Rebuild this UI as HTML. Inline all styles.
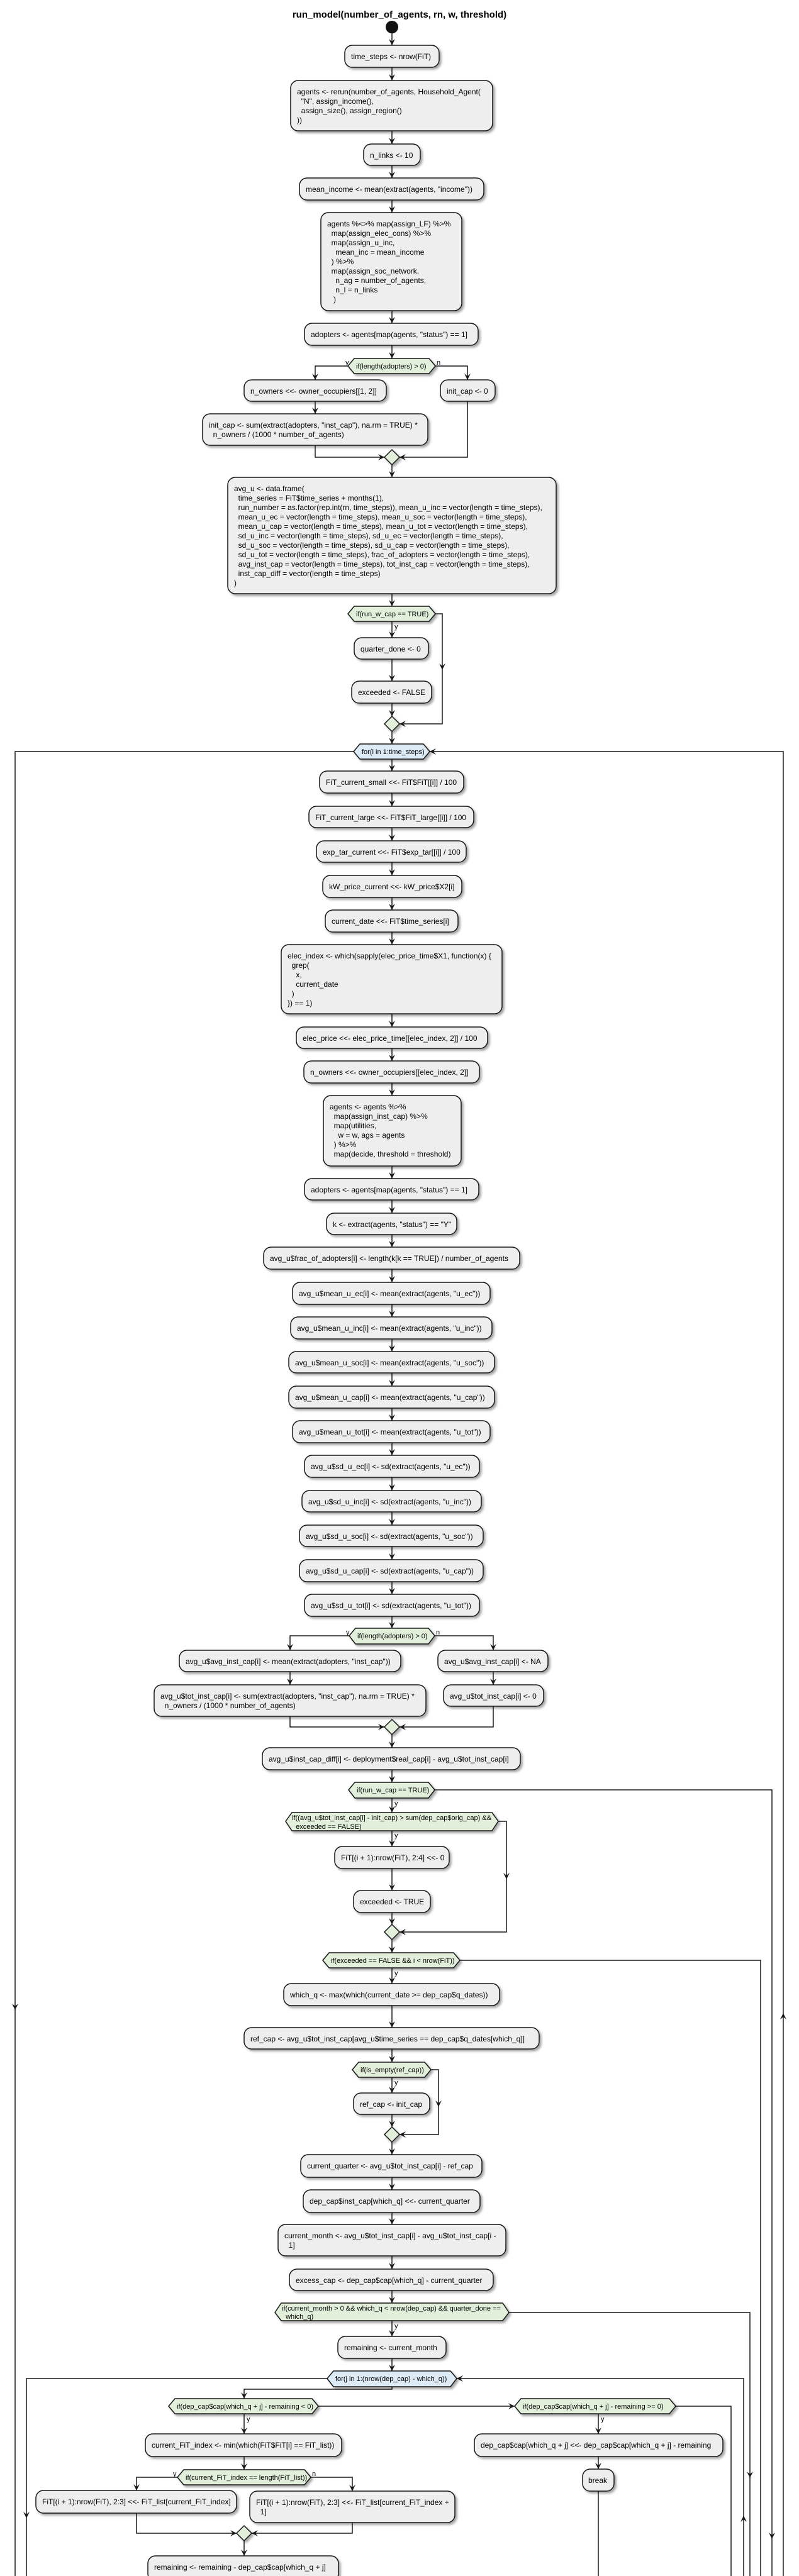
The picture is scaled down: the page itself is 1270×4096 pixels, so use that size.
<!DOCTYPE html>
<html><head><meta charset="utf-8">
<style>
html,body{margin:0;padding:0;background:#fff;}
svg{display:block;}
text{font-family:"Liberation Sans",sans-serif;font-size:12px;fill:#000;white-space:pre;}
.t{font-size:11px;}
.y{font-size:11px;}
.b{fill:#EEEEEE;stroke:#181818;stroke-width:1.5;filter:url(#s);}
.d{fill:#E2EFDA;stroke:#181818;stroke-width:1.5;filter:url(#s);}
.l{fill:#DDEBF7;stroke:#181818;stroke-width:1.5;filter:url(#s);}
.e{fill:none;stroke:#181818;stroke-width:1.5;}
.h{fill:#181818;}
</style></head><body>
<svg width="1270" height="4096" viewBox="0 0 1270 4096" xmlns="http://www.w3.org/2000/svg">
<defs>
<filter id="s" x="-10%" y="-10%" width="130%" height="140%"><feDropShadow dx="3" dy="3" stdDeviation="1.8" flood-color="#000" flood-opacity="0.35"/></filter>
<marker id="a" viewBox="0 0 10 10" refX="10" refY="5" markerWidth="10" markerHeight="10" markerUnits="userSpaceOnUse" orient="auto"><path d="M0,0 L10,5 L0,10 L4,5 Z" fill="#181818"/></marker>
</defs>

<text x="635" y="28" text-anchor="middle" style="font-size:15px;font-weight:bold">run_model(number_of_agents, rn, w, threshold)</text>
<circle cx="623" cy="43" r="10" fill="#111"/>
<path class="e" d="M623,53V72" marker-end="url(#a)"/>

<rect class="b" x="548" y="72" width="150" height="35" rx="12"/><text x="558" y="94">time_steps &lt;- nrow(FiT)</text>
<path class="e" d="M623,107V128" marker-end="url(#a)"/>
<rect class="b" x="462" y="128" width="321" height="80" rx="12"/>
<text x="472" y="150">agents &lt;- rerun(number_of_agents, Household_Agent(</text>
<text x="472" y="165">  "N", assign_income(),</text>
<text x="472" y="180">  assign_size(), assign_region()</text>
<text x="472" y="195">))</text>
<path class="e" d="M623,208V229" marker-end="url(#a)"/>
<rect class="b" x="578" y="229" width="90" height="34" rx="12"/><text x="588" y="251">n_links &lt;- 10</text>
<path class="e" d="M623,263V283" marker-end="url(#a)"/>
<rect class="b" x="476" y="283" width="293" height="35" rx="12"/><text x="486" y="305">mean_income &lt;- mean(extract(agents, "income"))</text>
<path class="e" d="M623,318V338" marker-end="url(#a)"/>
<rect class="b" x="510" y="338" width="224" height="156" rx="12"/>
<text x="520" y="360">agents %&lt;&gt;% map(assign_LF) %&gt;%</text>
<text x="520" y="375">  map(assign_elec_cons) %&gt;%</text>
<text x="520" y="390">  map(assign_u_inc,</text>
<text x="520" y="405">    mean_inc = mean_income</text>
<text x="520" y="420">  ) %&gt;%</text>
<text x="520" y="435">  map(assign_soc_network,</text>
<text x="520" y="450">    n_ag = number_of_agents,</text>
<text x="520" y="465">    n_l = n_links</text>
<text x="520" y="480">   )</text>
<path class="e" d="M623,494V514" marker-end="url(#a)"/>
<rect class="b" x="484" y="514" width="276" height="35" rx="12"/><text x="494" y="536">adopters &lt;- agents[map(agents, "status") == 1]</text>
<path class="e" d="M623,549V570" marker-end="url(#a)"/>
<polygon class="d" points="553,582 563,570 682,570 692,582 682,594 563,594"/><text class="t" x="566" y="586">if(length(adopters) &gt; 0)</text>
<text class="y" x="549" y="580">y</text><text class="y" x="694" y="580">n</text>
<path class="e" d="M553,582H501V604" marker-end="url(#a)"/>
<path class="e" d="M692,582H743V604" marker-end="url(#a)"/>
<rect class="b" x="388" y="604" width="226" height="34" rx="12"/><text x="398" y="626">n_owners &lt;&lt;- owner_occupiers[[1, 2]]</text>
<rect class="b" x="700" y="604" width="87" height="34" rx="12"/><text x="710" y="626">init_cap &lt;- 0</text>
<path class="e" d="M501,638V658" marker-end="url(#a)"/>
<rect class="b" x="322" y="658" width="358" height="50" rx="12"/>
<text x="332" y="680">init_cap &lt;- sum(extract(adopters, "inst_cap"), na.rm = TRUE) *</text>
<text x="332" y="695">  n_owners / (1000 * number_of_agents)</text>
<path class="e" d="M501,708V727H611" marker-end="url(#a)"/>
<path class="e" d="M743,638V727H635" marker-end="url(#a)"/>
<polygon class="d" points="623,715 635,727 623,739 611,727"/>
<path class="e" d="M623,739V759" marker-end="url(#a)"/>
<rect class="b" x="362" y="759" width="522" height="185" rx="12"/>
<text x="372" y="781">avg_u &lt;- data.frame(</text>
<text x="372" y="796">  time_series = FiT$time_series + months(1),</text>
<text x="372" y="811">  run_number = as.factor(rep.int(rn, time_steps)), mean_u_inc = vector(length = time_steps),</text>
<text x="372" y="826">  mean_u_ec = vector(length = time_steps), mean_u_soc = vector(length = time_steps),</text>
<text x="372" y="841">  mean_u_cap = vector(length = time_steps), mean_u_tot = vector(length = time_steps),</text>
<text x="372" y="856">  sd_u_inc = vector(length = time_steps), sd_u_ec = vector(length = time_steps),</text>
<text x="372" y="871">  sd_u_soc = vector(length = time_steps), sd_u_cap = vector(length = time_steps),</text>
<text x="372" y="886">  sd_u_tot = vector(length = time_steps), frac_of_adopters = vector(length = time_steps),</text>
<text x="372" y="901">  avg_inst_cap = vector(length = time_steps), tot_inst_cap = vector(length = time_steps),</text>
<text x="372" y="916">  inst_cap_diff = vector(length = time_steps)</text>
<text x="372" y="931">)</text>
<path class="e" d="M623,944V964" marker-end="url(#a)"/>
<polygon class="d" points="553,976 563,964 682,964 692,976 682,988 563,988"/><text class="t" x="566" y="980">if(run_w_cap == TRUE)</text>
<text class="y" x="627" y="1000">y</text>
<path class="e" d="M623,988V1014" marker-end="url(#a)"/>
<path class="e" d="M692,976H703V1151H635" marker-end="url(#a)"/>
<polygon class="h" points="698,1055 703,1065 708,1055 703,1059"/>
<rect class="b" x="563" y="1014" width="118" height="34" rx="12"/><text x="573" y="1036">quarter_done &lt;- 0</text>
<path class="e" d="M623,1048V1083" marker-end="url(#a)"/>
<rect class="b" x="559" y="1083" width="127" height="35" rx="12"/><text x="569" y="1105">exceeded &lt;- FALSE</text>
<path class="e" d="M623,1118V1139" marker-end="url(#a)"/>
<polygon class="d" points="623,1139 635,1151 623,1163 611,1151"/>
<path class="e" d="M623,1163V1183" marker-end="url(#a)"/>
<polygon class="l" points="562,1195 572,1183 673,1183 683,1195 673,1207 572,1207"/><text class="t" x="575" y="1199">for(i in 1:time_steps)</text>
<path class="e" d="M562,1195H24V4096"/>
<polygon class="h" points="19,3186 24,3196 29,3186 24,3190"/>
<path class="e" d="M1245,4096V1195H683" marker-end="url(#a)"/>
<polygon class="h" points="1240,3211 1245,3201 1250,3211 1245,3207"/>
<path class="e" d="M623,1207V1226" marker-end="url(#a)"/>

<rect class="b" x="508" y="1226" width="229" height="35" rx="12"/><text x="518" y="1248">FiT_current_small &lt;&lt;- FiT$FiT[[i]] / 100</text>
<path class="e" d="M623,1261V1282" marker-end="url(#a)"/>
<rect class="b" x="491" y="1282" width="262" height="34" rx="12"/><text x="501" y="1304">FiT_current_large &lt;&lt;- FiT$FiT_large[[i]] / 100</text>
<path class="e" d="M623,1316V1337" marker-end="url(#a)"/>
<rect class="b" x="503" y="1337" width="238" height="34" rx="12"/><text x="513" y="1359">exp_tar_current &lt;&lt;- FiT$exp_tar[[i]] / 100</text>
<path class="e" d="M623,1371V1392" marker-end="url(#a)"/>
<rect class="b" x="513" y="1392" width="221" height="35" rx="12"/><text x="523" y="1414">kW_price_current &lt;&lt;- kW_price$X2[i]</text>
<path class="e" d="M623,1427V1447" marker-end="url(#a)"/>
<rect class="b" x="517" y="1447" width="211" height="35" rx="12"/><text x="527" y="1469">current_date &lt;&lt;- FiT$time_series[i]</text>
<path class="e" d="M623,1482V1502" marker-end="url(#a)"/>
<rect class="b" x="447" y="1502" width="351" height="110" rx="12"/>
<text x="457" y="1524">elec_index &lt;- which(sapply(elec_price_time$X1, function(x) {</text>
<text x="457" y="1539">  grep(</text>
<text x="457" y="1554">    x,</text>
<text x="457" y="1569">    current_date</text>
<text x="457" y="1584">  )</text>
<text x="457" y="1599">}) == 1)</text>
<path class="e" d="M623,1612V1633" marker-end="url(#a)"/>
<rect class="b" x="471" y="1633" width="304" height="34" rx="12"/><text x="481" y="1655">elec_price &lt;&lt;- elec_price_time[[elec_index, 2]] / 100</text>
<path class="e" d="M623,1667V1687" marker-end="url(#a)"/>
<rect class="b" x="483" y="1687" width="279" height="35" rx="12"/><text x="493" y="1709">n_owners &lt;&lt;- owner_occupiers[[elec_index, 2]]</text>
<path class="e" d="M623,1722V1742" marker-end="url(#a)"/>
<rect class="b" x="514" y="1742" width="219" height="112" rx="12"/>
<text x="524" y="1764">agents &lt;- agents %&gt;%</text>
<text x="524" y="1779">  map(assign_inst_cap) %&gt;%</text>
<text x="524" y="1794">  map(utilities,</text>
<text x="524" y="1809">    w = w, ags = agents</text>
<text x="524" y="1824">  ) %&gt;%</text>
<text x="524" y="1839">  map(decide, threshold = threshold)</text>
<path class="e" d="M623,1854V1874" marker-end="url(#a)"/>
<rect class="b" x="484" y="1874" width="277" height="34" rx="12"/><text x="494" y="1896">adopters &lt;- agents[map(agents, "status") == 1]</text>
<path class="e" d="M623,1908V1929" marker-end="url(#a)"/>
<rect class="b" x="519" y="1929" width="207" height="34" rx="12"/><text x="529" y="1951">k &lt;- extract(agents, "status") == "Y"</text>
<path class="e" d="M623,1963V1983" marker-end="url(#a)"/>
<rect class="b" x="419" y="1983" width="407" height="35" rx="12"/><text x="429" y="2005">avg_u$frac_of_adopters[i] &lt;- length(k[k == TRUE]) / number_of_agents</text>
<path class="e" d="M623,2018V2039" marker-end="url(#a)"/>
<rect class="b" x="465" y="2039" width="314" height="35" rx="12"/><text x="475" y="2061">avg_u$mean_u_ec[i] &lt;- mean(extract(agents, "u_ec"))</text>
<path class="e" d="M623,2074V2094" marker-end="url(#a)"/>
<rect class="b" x="462" y="2094" width="320" height="35" rx="12"/><text x="472" y="2116">avg_u$mean_u_inc[i] &lt;- mean(extract(agents, "u_inc"))</text>
<path class="e" d="M623,2129V2149" marker-end="url(#a)"/>
<rect class="b" x="459" y="2149" width="327" height="34" rx="12"/><text x="469" y="2171">avg_u$mean_u_soc[i] &lt;- mean(extract(agents, "u_soc"))</text>
<path class="e" d="M623,2183V2204" marker-end="url(#a)"/>
<rect class="b" x="459" y="2204" width="327" height="35" rx="12"/><text x="469" y="2226">avg_u$mean_u_cap[i] &lt;- mean(extract(agents, "u_cap"))</text>
<path class="e" d="M623,2239V2259" marker-end="url(#a)"/>
<rect class="b" x="465" y="2259" width="314" height="35" rx="12"/><text x="475" y="2281">avg_u$mean_u_tot[i] &lt;- mean(extract(agents, "u_tot"))</text>
<path class="e" d="M623,2294V2314" marker-end="url(#a)"/>
<rect class="b" x="484" y="2314" width="278" height="35" rx="12"/><text x="494" y="2336">avg_u$sd_u_ec[i] &lt;- sd(extract(agents, "u_ec"))</text>
<path class="e" d="M623,2349V2370" marker-end="url(#a)"/>
<rect class="b" x="480" y="2370" width="285" height="34" rx="12"/><text x="490" y="2392">avg_u$sd_u_inc[i] &lt;- sd(extract(agents, "u_inc"))</text>
<path class="e" d="M623,2404V2425" marker-end="url(#a)"/>
<rect class="b" x="476" y="2425" width="292" height="34" rx="12"/><text x="486" y="2447">avg_u$sd_u_soc[i] &lt;- sd(extract(agents, "u_soc"))</text>
<path class="e" d="M623,2459V2480" marker-end="url(#a)"/>
<rect class="b" x="476" y="2480" width="292" height="35" rx="12"/><text x="486" y="2502">avg_u$sd_u_cap[i] &lt;- sd(extract(agents, "u_cap"))</text>
<path class="e" d="M623,2515V2535" marker-end="url(#a)"/>
<rect class="b" x="484" y="2535" width="278" height="35" rx="12"/><text x="494" y="2557">avg_u$sd_u_tot[i] &lt;- sd(extract(agents, "u_tot"))</text>
<path class="e" d="M623,2570V2589" marker-end="url(#a)"/>
<polygon class="d" points="555,2601 565,2589 681,2589 691,2601 681,2614 565,2614"/><text class="t" x="568" y="2605">if(length(adopters) &gt; 0)</text>
<text class="y" x="550" y="2599">y</text><text class="y" x="693" y="2599">n</text>
<path class="e" d="M555,2601H461V2624" marker-end="url(#a)"/>
<path class="e" d="M691,2601H784V2624" marker-end="url(#a)"/>
<rect class="b" x="285" y="2624" width="352" height="34" rx="12"/><text x="295" y="2646">avg_u$avg_inst_cap[i] &lt;- mean(extract(adopters, "inst_cap"))</text>
<rect class="b" x="696" y="2624" width="175" height="34" rx="12"/><text x="706" y="2646">avg_u$avg_inst_cap[i] &lt;- NA</text>
<path class="e" d="M461,2658V2679" marker-end="url(#a)"/>
<path class="e" d="M784,2658V2679" marker-end="url(#a)"/>
<rect class="b" x="245" y="2679" width="432" height="50" rx="12"/>
<text x="255" y="2701">avg_u$tot_inst_cap[i] &lt;- sum(extract(adopters, "inst_cap"), na.rm = TRUE) *</text>
<text x="255" y="2716">  n_owners / (1000 * number_of_agents)</text>
<rect class="b" x="705" y="2679" width="159" height="34" rx="12"/><text x="715" y="2701">avg_u$tot_inst_cap[i] &lt;- 0</text>
<path class="e" d="M461,2729V2746H611" marker-end="url(#a)"/>
<path class="e" d="M784,2713V2746H635" marker-end="url(#a)"/>
<polygon class="d" points="623,2734 635,2746 623,2758 611,2746"/>
<path class="e" d="M623,2758V2779" marker-end="url(#a)"/>
<rect class="b" x="417" y="2779" width="410" height="35" rx="12"/><text x="427" y="2801">avg_u$inst_cap_diff[i] &lt;- deployment$real_cap[i] - avg_u$tot_inst_cap[i]</text>
<path class="e" d="M623,2814V2834" marker-end="url(#a)"/>
<polygon class="d" points="554,2846 564,2834 681,2834 691,2846 681,2859 564,2859"/><text class="t" x="567" y="2850">if(run_w_cap == TRUE)</text>
<path class="e" d="M691,2846H1227V4096"/>
<polygon class="h" points="1222,4027 1227,4037 1232,4027 1227,4031"/>
<text class="y" x="627" y="2871">y</text>
<path class="e" d="M623,2859V2882" marker-end="url(#a)"/>
<polygon class="d" points="454,2896 464,2882 782,2882 792,2896 782,2911 464,2911"/>
<text class="t" x="464" y="2894">if((avg_u$tot_inst_cap[i] - init_cap) &gt; sum(dep_cap$orig_cap) &amp;&amp;</text>
<text class="t" x="464" y="2908">  exceeded == FALSE)</text>
<text class="y" x="627" y="2922">y</text>
<path class="e" d="M623,2911V2936" marker-end="url(#a)"/>
<path class="e" d="M792,2896H805V3072H635" marker-end="url(#a)"/>
<polygon class="h" points="800,2978 805,2988 810,2978 805,2982"/>
<rect class="b" x="532" y="2936" width="182" height="35" rx="12"/><text x="542" y="2958">FiT[(i + 1):nrow(FiT), 2:4] &lt;&lt;- 0</text>
<path class="e" d="M623,2971V3006" marker-end="url(#a)"/>
<rect class="b" x="562" y="3006" width="122" height="35" rx="12"/><text x="572" y="3028">exceeded &lt;- TRUE</text>
<path class="e" d="M623,3041V3060" marker-end="url(#a)"/>
<polygon class="d" points="623,3060 635,3072 623,3084 611,3072"/>
<path class="e" d="M623,3084V3105" marker-end="url(#a)"/>
<polygon class="d" points="513,3117 523,3105 721,3105 731,3117 721,3129 523,3129"/><text class="t" x="526" y="3121">if(exceeded == FALSE &amp;&amp; i &lt; nrow(FiT))</text>
<path class="e" d="M731,3117H1209V4096"/>
<text class="y" x="627" y="3141">y</text>
<path class="e" d="M623,3129V3154" marker-end="url(#a)"/>
<rect class="b" x="451" y="3154" width="343" height="35" rx="12"/><text x="461" y="3176">which_q &lt;- max(which(current_date &gt;= dep_cap$q_dates))</text>
<path class="e" d="M623,3189V3224" marker-end="url(#a)"/>
<rect class="b" x="388" y="3224" width="469" height="34" rx="12"/><text x="398" y="3246">ref_cap &lt;- avg_u$tot_inst_cap[avg_u$time_series == dep_cap$q_dates[which_q]]</text>
<path class="e" d="M623,3258V3279" marker-end="url(#a)"/>
<polygon class="d" points="560,3291 570,3279 675,3279 685,3291 675,3303 570,3303"/><text class="t" x="573" y="3295">if(is_empty(ref_cap))</text>
<text class="y" x="627" y="3315">y</text>
<path class="e" d="M685,3291H697V3394H635" marker-end="url(#a)"/>
<polygon class="h" points="692,3340 697,3350 702,3340 697,3344"/>
<path class="e" d="M623,3303V3328" marker-end="url(#a)"/>
<rect class="b" x="562" y="3328" width="121" height="34" rx="12"/><text x="572" y="3350">ref_cap &lt;- init_cap</text>
<path class="e" d="M623,3362V3382" marker-end="url(#a)"/>
<polygon class="d" points="623,3382 635,3394 623,3406 611,3394"/>
<path class="e" d="M623,3406V3426" marker-end="url(#a)"/>
<rect class="b" x="478" y="3426" width="288" height="36" rx="12"/><text x="488" y="3448">current_quarter &lt;- avg_u$tot_inst_cap[i] - ref_cap</text>
<path class="e" d="M623,3462V3482" marker-end="url(#a)"/>
<rect class="b" x="482" y="3482" width="281" height="36" rx="12"/><text x="492" y="3504">dep_cap$inst_cap[which_q] &lt;&lt;- current_quarter</text>
<path class="e" d="M623,3518V3537" marker-end="url(#a)"/>
<rect class="b" x="442" y="3537" width="362" height="50" rx="12"/>
<text x="452" y="3559">current_month &lt;- avg_u$tot_inst_cap[i] - avg_u$tot_inst_cap[i -</text>
<text x="452" y="3574">  1]</text>
<path class="e" d="M623,3587V3608" marker-end="url(#a)"/>
<rect class="b" x="460" y="3608" width="324" height="34" rx="12"/><text x="470" y="3630">excess_cap &lt;- dep_cap$cap[which_q] - current_quarter</text>
<path class="e" d="M623,3642V3662" marker-end="url(#a)"/>
<polygon class="d" points="437,3677 447,3662 799,3662 809,3677 799,3690 447,3690"/>
<text class="t" x="448" y="3674">if(current_month &gt; 0 &amp;&amp; which_q &lt; nrow(dep_cap) &amp;&amp; quarter_done ==</text>
<text class="t" x="448" y="3687">  which_q)</text>
<path class="e" d="M809,3677H1192V4096"/>
<polygon class="h" points="1187,3930 1192,3940 1197,3930 1192,3934"/>
<text class="y" x="627" y="3702">y</text>
<path class="e" d="M623,3690V3715" marker-end="url(#a)"/>
<rect class="b" x="537" y="3715" width="172" height="35" rx="12"/><text x="547" y="3737">remaining &lt;- current_month</text>
<path class="e" d="M623,3750V3770" marker-end="url(#a)"/>
<polygon class="l" points="520,3782 530,3770 716,3770 726,3782 716,3795 530,3795"/><text class="t" x="533" y="3786">for(j in 1:(nrow(dep_cap) - which_q))</text>
<path class="e" d="M520,3782H42V4096"/>
<polygon class="h" points="37,3994 42,4004 47,3994 42,3998"/>
<path class="e" d="M1182,4096V3782H726" marker-end="url(#a)"/>
<polygon class="h" points="1177,4010 1182,4000 1187,4010 1182,4006"/>
<path class="e" d="M623,3795V3799H388V3814" marker-end="url(#a)"/>
<polygon class="d" points="268,3826 278,3814 496,3814 506,3826 496,3838 278,3838"/><text class="t" x="281" y="3830">if(dep_cap$cap[which_q + j] - remaining &lt; 0)</text>
<path class="e" d="M506,3826H818" marker-end="url(#a)"/>
<polygon class="d" points="818,3826 828,3814 1064,3814 1074,3826 1064,3838 828,3838"/><text class="t" x="831" y="3830">if(dep_cap$cap[which_q + j] - remaining &gt;= 0)</text>
<path class="e" d="M1074,3826H1162V4096"/>
<text class="y" x="392" y="3850">y</text><text class="y" x="955" y="3850">y</text>
<path class="e" d="M388,3838V3870" marker-end="url(#a)"/>
<path class="e" d="M951,3838V3870" marker-end="url(#a)"/>
<rect class="b" x="231" y="3870" width="312" height="36" rx="12"/><text x="241" y="3892">current_FiT_index &lt;- min(which(FiT$FiT[i] == FiT_list))</text>
<rect class="b" x="754" y="3870" width="395" height="36" rx="12"/><text x="764" y="3892">dep_cap$cap[which_q + j] &lt;&lt;- dep_cap$cap[which_q + j] - remaining</text>
<path class="e" d="M388,3906V3927" marker-end="url(#a)"/>
<path class="e" d="M951,3906V3926" marker-end="url(#a)"/>
<rect class="b" x="926" y="3926" width="50" height="35" rx="12"/><text x="935" y="3948">break</text>
<path class="e" d="M951,3961V4096"/>
<polygon class="d" points="282,3939 292,3927 484,3927 494,3939 484,3951 292,3951"/><text class="t" x="295" y="3943">if(current_FiT_index == length(FiT_list))</text>
<text class="y" x="275" y="3937">y</text><text class="y" x="496" y="3937">n</text>
<path class="e" d="M282,3939H217V3960" marker-end="url(#a)"/>
<path class="e" d="M494,3939H560V3961" marker-end="url(#a)"/>
<rect class="b" x="57" y="3960" width="319" height="36" rx="12"/><text x="67" y="3982">FiT[(i + 1):nrow(FiT), 2:3] &lt;&lt;- FiT_list[current_FiT_index]</text>
<rect class="b" x="397" y="3961" width="326" height="50" rx="12"/>
<text x="407" y="3983">FiT[(i + 1):nrow(FiT), 2:3] &lt;&lt;- FiT_list[current_FiT_index +</text>
<text x="407" y="3998">  1]</text>
<path class="e" d="M217,3996V4028H376" marker-end="url(#a)"/>
<path class="e" d="M560,4011V4028H400" marker-end="url(#a)"/>
<polygon class="d" points="388,4016 400,4028 388,4040 376,4028"/>
<path class="e" d="M388,4040V4064" marker-end="url(#a)"/>
<rect class="b" x="235" y="4064" width="303" height="40" rx="12"/><text x="245" y="4086">remaining &lt;- remaining - dep_cap$cap[which_q + j]</text>
</svg>
</body></html>
